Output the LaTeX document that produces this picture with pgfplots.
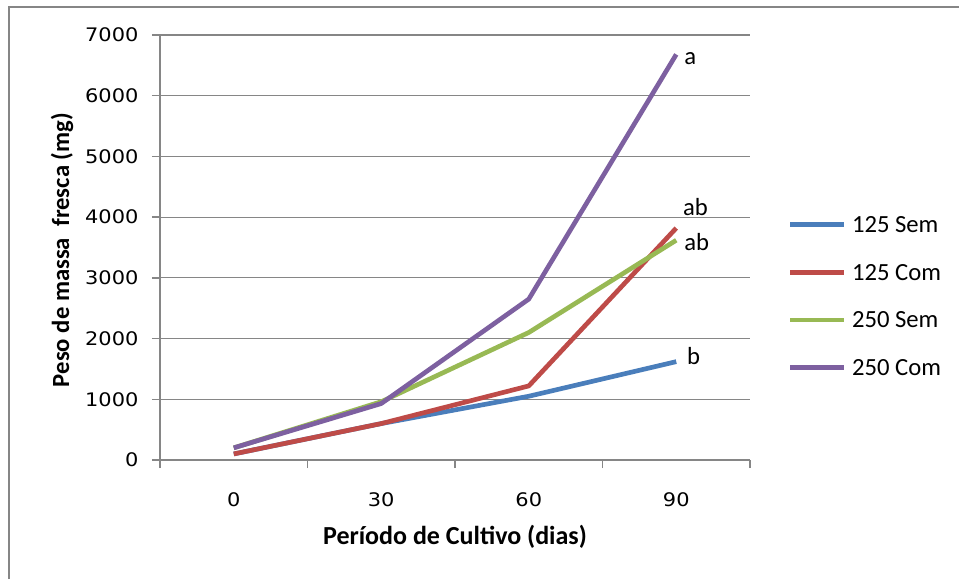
\documentclass[border=0pt]{standalone}
\usepackage{pgfplots}
\pgfplotsset{compat=1.18}
\usepackage{fontspec}
\setmainfont{Carlito}
\newfontfamily\tickfont{DejaVu Sans}[FakeStretch=1.12]

\definecolor{serA}{HTML}{4A7EBB}
\definecolor{serB}{HTML}{BE4B48}
\definecolor{serC}{HTML}{98B954}
\definecolor{serD}{HTML}{7D60A0}
\definecolor{axgray}{HTML}{868686}

\begin{document}
\begin{tikzpicture}
\path[use as bounding box] (0pt,0pt) rectangle (719.25pt,434.25pt);
\draw[axgray, line width=1.2pt] (6.75pt,0pt) -- (6.75pt,429pt) -- (719.25pt,429pt);
\begin{axis}[
  at={(120pt,89.25pt)}, anchor=south west,
  scale only axis, width=442.5pt, height=318.75pt,
  xmin=-0.5, xmax=3.5, ymin=0, ymax=7000,
  axis lines=left, axis line style={axgray, line width=1.1pt, -},
  tick align=outside, major tick length=6pt,
  tick style={axgray, line width=1.1pt},
  xtick={-0.5,0.5,1.5,2.5,3.5}, xticklabels={},
  extra x ticks={0,1,2,3}, extra x tick labels={0,30,60,90},
  extra x tick style={tick style={draw=none}},
  ytick={0,1000,...,7000},
  scaled y ticks=false,
  ymajorgrids, grid style={axgray, line width=0.8pt},
  /pgf/number format/1000 sep={},
  /pgf/number format/assume math mode=true,
  ticklabel style={font=\tickfont\fontsize{14}{16}\selectfont, inner sep=0pt},
  yticklabel style={xshift=-10pt},
  xticklabel style={yshift=-18pt},
  xlabel={Período de Cultivo (dias)},
  ylabel={Peso de massa\ \ fresca (mg)},
  label style={font=\bfseries\fontsize{18.5}{20}\selectfont},
  xlabel style={at={(axis description cs:0.5,-0.181)}, anchor=center,
    font=\bfseries\fontsize{19.5}{21}\selectfont},
  ylabel style={at={(axis description cs:-0.166,0.494)}, anchor=center, rotate=0},
  legend style={draw=none, fill=none, at={(1.0644,0.387)}, anchor=west,
    inner sep=0pt, outer sep=0pt, row sep=23.25pt, column sep=4.5pt,
    font=\fontsize{18.5}{20}\selectfont,
    nodes={inner sep=0pt, text height=12.5pt, text depth=0pt}},
  legend cell align=left,
  legend image code/.code={\draw[#1, line width=3.5pt] (0pt,-0.5pt) -- (40pt,-0.5pt);},
  every axis plot/.append style={line width=3.5pt, line join=round, mark=none},
  clip=false,
]
\addplot[serA] coordinates {(0,100) (1,600) (2,1050) (3,1620)}
  node[pos=1, anchor=west, xshift=3pt, yshift=4pt, text=black, font=\fontsize{18.5}{20}\selectfont] {b};
\addplot[serB] coordinates {(0,100) (1,600) (2,1220) (3,3820)}
  node[pos=1, anchor=south west, xshift=0pt, yshift=4pt, text=black, font=\fontsize{18.5}{20}\selectfont] {ab};
\addplot[serC] coordinates {(0,200) (1,960) (2,2100) (3,3620)}
  node[pos=1, anchor=west, xshift=1pt, yshift=-1pt, text=black, font=\fontsize{18.5}{20}\selectfont] {ab};
\addplot[serD] coordinates {(0,200) (1,930) (2,2650) (3,6680)}
  node[pos=1, anchor=west, xshift=1pt, yshift=-3pt, text=black, font=\fontsize{18.5}{20}\selectfont] {a};
\legend{125 Sem, 125 Com, 250 Sem, 250 Com}
\end{axis}
\end{tikzpicture}
\end{document}
